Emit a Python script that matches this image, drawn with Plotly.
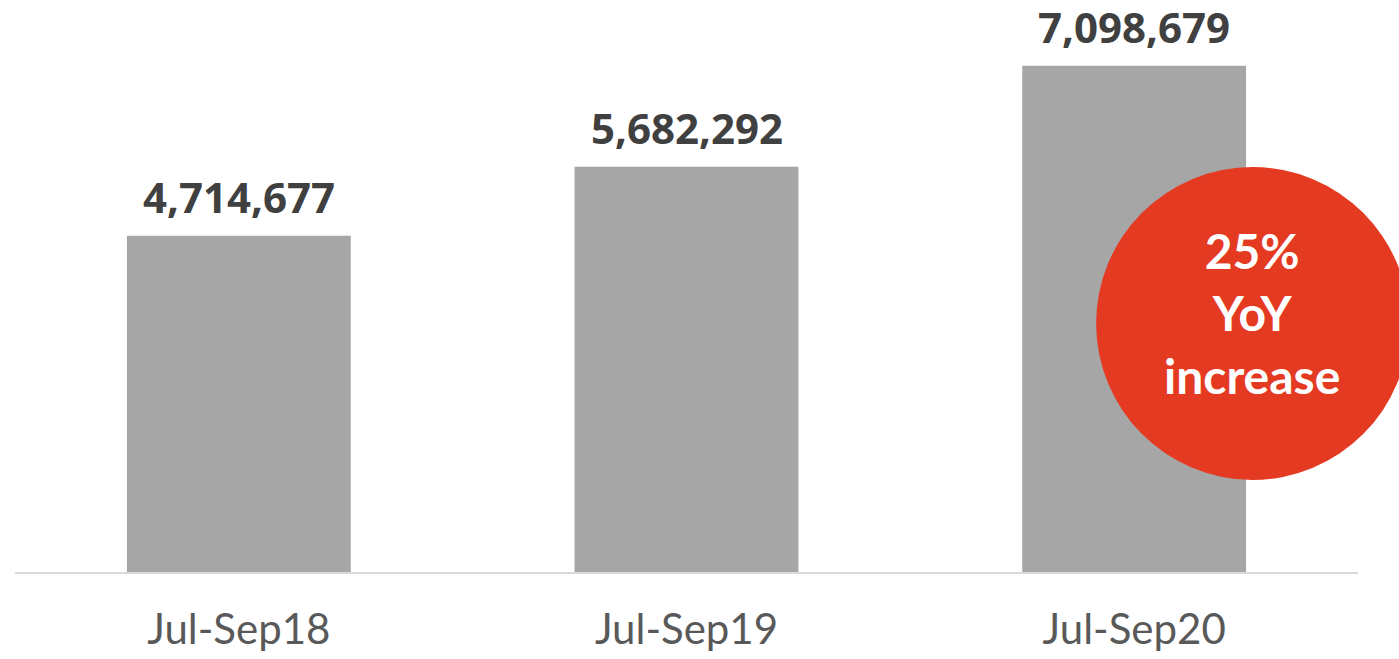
import plotly.graph_objects as go

# Quarterly totals
quarters = ["Jul-Sep18", "Jul-Sep19", "Jul-Sep20"]
totals = [4714677, 5682292, 7098679]
badge_lines = ["25%", "YoY", "increase"]

BAR_GREY = "#a6a6a6"
LABEL_DARK = "#404040"
TICK_GREY = "#595959"
BADGE_RED = "#e53a22"

fig = go.Figure()
fig.add_trace(go.Bar(
    x=quarters,
    y=totals,
    marker=dict(color=BAR_GREY, line=dict(width=0)),
    width=0.5,
    hoverinfo="skip",
))

# Value labels above each bar
for q, v in zip(quarters, totals):
    fig.add_annotation(
        x=q, y=v, text=f"<b>{v:,}</b>", showarrow=False,
        xanchor="center", yanchor="bottom", yshift=9,
        font=dict(family="Open Sans", size=42, color=LABEL_DARK),
    )

# Red growth badge overlapping the latest bar
fig.add_shape(
    type="circle", xref="paper", yref="paper",
    x0=0.805, x1=1.038, y0=0.161, y1=0.708,
    fillcolor=BADGE_RED, line=dict(width=0), layer="above",
)
fig.add_annotation(
    xref="paper", yref="paper", x=0.9214, y=0.4345, yshift=10,
    text="<br>".join(f"<b>{t}</b>" for t in badge_lines),
    showarrow=False, xanchor="center", yanchor="middle",
    font=dict(family="Lato", size=48, color="white"),
)

fig.update_layout(
    width=1399, height=659,
    margin=dict(l=15, r=41, t=0, b=87),
    paper_bgcolor="white", plot_bgcolor="white",
    showlegend=False,
    bargap=0.5,
    xaxis=dict(
        showline=True, linecolor="#d9d9d9", linewidth=2,
        showgrid=False, ticks="", range=[-0.5, 2.5],
        ticklabelstandoff=20,
        tickfont=dict(family="Lato", size=42, color=TICK_GREY),
    ),
    yaxis=dict(
        range=[0, 8.02e6], visible=False, showgrid=False, zeroline=False,
    ),
)

fig.write_html("out.html")
